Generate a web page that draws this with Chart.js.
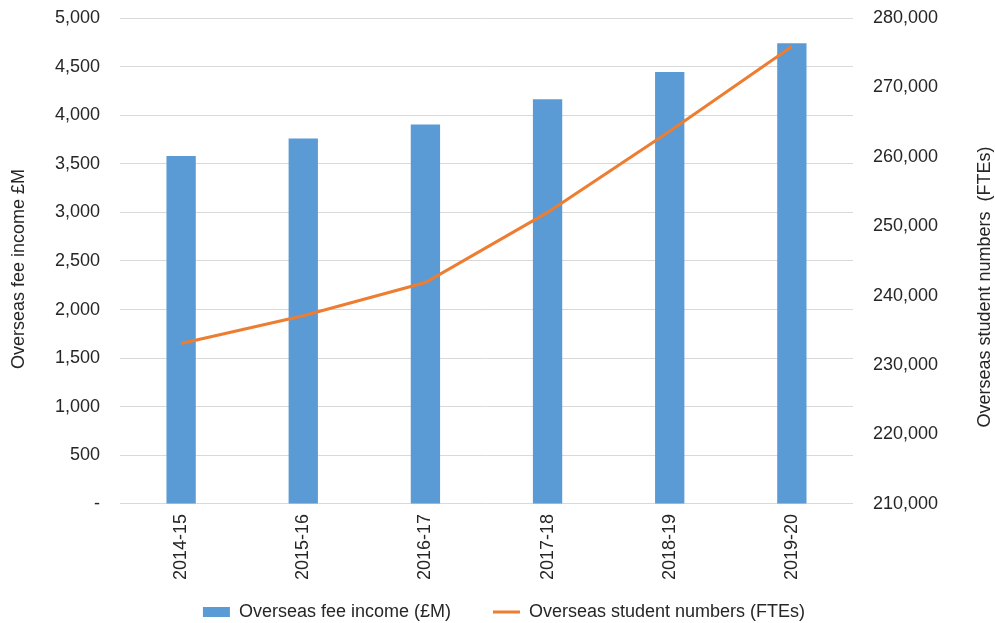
<!DOCTYPE html>
<html>
<head>
<meta charset="utf-8">
<script src="https://cdn.jsdelivr.net/npm/chart.js@4"></script>
<style>
    body { margin: 0; background: #fff; overflow: hidden; }
    #wrap { width: 995px; height: 631px; position: relative; }
</style>
</head>
<body>
<div id="wrap"><canvas id="feeChart"></canvas></div>
<script>
// Academic years on the x axis
const years = ['2014-15', '2015-16', '2016-17', '2017-18', '2018-19', '2019-20'];
// Overseas fee income, £M (left axis)
const feeIncome = [3580, 3760, 3905, 4165, 4445, 4740];
// Overseas student numbers, FTEs (right axis)
const studentFTEs = [233100, 237100, 241900, 252000, 263700, 275900];

const textColor = '#262626';
const fontFamily = '"Liberation Sans", Arial, sans-serif';

Chart.defaults.font.family = fontFamily;
Chart.defaults.font.size = 18;
Chart.defaults.color = textColor;

function fmt(value) {
    if (value === 0) return '-';
    return value.toLocaleString('en-US');
}

// Both axis titles read bottom-to-top, so draw them ourselves
const axisTitles = {
    id: 'axisTitles',
    afterLayout(chart) {
        // nudge the legend a little to the right
        chart.legend.left += 7.5;
        chart.legend.right += 7.5;
    },
    afterDraw(chart) {
        const c = chart.ctx;
        c.save();
        c.fillStyle = textColor;
        c.font = '18px ' + fontFamily;
        c.textAlign = 'center';
        c.textBaseline = 'middle';
        const titles = [
            { text: 'Overseas fee income £M', x: 19, y: 269 },
            { text: 'Overseas student numbers  (FTEs)', x: 985, y: 287 }
        ];
        titles.forEach(t => {
            c.save();
            c.translate(t.x, t.y);
            c.rotate(-Math.PI / 2);
            c.fillText(t.text, 0, 0);
            c.restore();
        });
        c.restore();
    }
};

// let the top tick labels sit above the plot without pushing it down
function noTopPad(scale) {
    scale.paddingTop = 0;
}

const ctx = document.getElementById('feeChart').getContext('2d');
const feeChart = new Chart(ctx, {
    type: 'bar',
    data: {
        labels: years,
        datasets: [{
            label: 'Overseas fee income (£M)',
            data: feeIncome,
            backgroundColor: '#5B9BD5',
            borderWidth: 0,
            barPercentage: 0.48,
            categoryPercentage: 0.5,
            pointStyle: 'rect',
            yAxisID: 'y',
            order: 1
        }, {
            type: 'line',
            label: 'Overseas student numbers (FTEs)',
            data: studentFTEs,
            borderColor: '#ED7D31',
            backgroundColor: '#ED7D31',
            borderWidth: 3,
            pointRadius: 0,
            tension: 0,
            pointStyle: 'line',
            yAxisID: 'y1',
            order: 0
        }]
    },
    options: {
        responsive: true,
        maintainAspectRatio: false,
        animation: false,
        layout: {
            padding: { left: 35, right: 37, top: 18, bottom: 0 }
        },
        scales: {
            x: {
                grid: { display: false },
                border: { display: false },
                ticks: {
                    maxRotation: 90,
                    minRotation: 90,
                    padding: 2
                },
                afterFit(scale) {
                    scale.height -= 21;
                    // labels run past the shortened box, so don't clip them
                    scale._computeLabelArea = () => undefined;
                }
            },
            y: {
                position: 'left',
                min: 0,
                max: 5000,
                grid: { color: '#D9D9D9', drawTicks: false },
                border: { display: false },
                ticks: {
                    stepSize: 500,
                    padding: 20,
                    callback: fmt
                },
                afterFit: noTopPad
            },
            y1: {
                position: 'right',
                min: 210000,
                max: 280000,
                grid: { display: false, drawTicks: false },
                border: { display: false },
                ticks: {
                    stepSize: 10000,
                    padding: 20,
                    callback: fmt
                },
                afterFit: noTopPad
            }
        },
        plugins: {
            tooltip: { enabled: false },
            legend: {
                position: 'bottom',
                labels: {
                    usePointStyle: true,
                    pointStyleWidth: 27,
                    boxHeight: 10,
                    padding: 42,
                    sort: (a, b) => a.datasetIndex - b.datasetIndex
                }
            }
        }
    },
    plugins: [axisTitles]
});
</script>
</body>
</html>
